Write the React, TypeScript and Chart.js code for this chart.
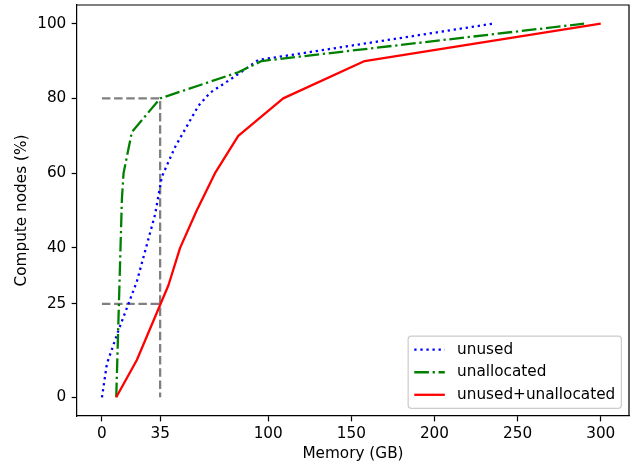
import React, { useEffect, useRef } from "react";
import { Chart, registerables } from "chart.js";

Chart.register(...registerables);

// ---- data ----
const unusedX = [0, 3, 10, 21, 32, 36, 44, 58, 65, 82, 94, 112, 235];
const unusedY = [0, 9, 18, 31, 49, 59, 67, 78, 81.5, 86.5, 90.3, 91.5, 100];

const unallocatedX = [8.6, 12, 13, 18, 35, 82, 96, 290];
const unallocatedY = [0, 53, 60, 71, 80, 87, 90, 100];

const bothX = [8.6, 21, 40, 47, 57, 68, 82, 109, 158, 300];
const bothY = [0, 10, 30, 40, 50, 60, 70, 80, 90, 100];

const ref80X = [0, 35, 35];
const ref80Y = [80, 80, 0];
const ref25X = [0, 35];
const ref25Y = [25, 25];

const xTicks = [0, 35, 100, 150, 200, 250, 300];
const yTicks = [0, 25, 40, 60, 80, 100];

const legendLabels = ["unused", "unallocated", "unused+unallocated"];

const FONT = "DejaVu Sans";
const FS = 15.28;
const LW = 2.29;

const toPts = (xs: number[], ys: number[]) => xs.map((x, i) => ({ x, y: ys[i] }));

const framePlugin = {
  id: "frameLegend",
  afterDatasetsDraw(chart: any) {
    const { ctx, chartArea } = chart;
    ctx.save();
    ctx.strokeStyle = "#000";
    ctx.lineWidth = 1.22;
    ctx.beginPath();
    ctx.moveTo(chartArea.left, chartArea.top);
    ctx.lineTo(chartArea.right, chartArea.top);
    ctx.lineTo(chartArea.right, chartArea.bottom);
    ctx.stroke();
    ctx.restore();
  },
  afterDraw(chart: any) {
    const { ctx, chartArea } = chart;
    ctx.save();
    ctx.font = `${FS}px "${FONT}"`;
    const pad = 0.4 * FS,
      hl = 2 * FS,
      htp = 0.8 * FS,
      ls = 0.5 * FS,
      axpad = 0.5 * FS;
    const rowH = 14.9;
    const tw = Math.max(...legendLabels.map((l) => ctx.measureText(l).width));
    const w = 2 * pad + hl + htp + tw;
    const h = 2 * pad + legendLabels.length * rowH + (legendLabels.length - 1) * ls;
    const right = chartArea.right - axpad;
    const bottom = chartArea.bottom - axpad;
    const left = right - w;
    const top = bottom - h;
    ctx.beginPath();
    ctx.roundRect(left, top, w, h, 3);
    ctx.fillStyle = "rgba(255,255,255,0.8)";
    ctx.fill();
    ctx.strokeStyle = "#cccccc";
    ctx.lineWidth = 1.2;
    ctx.stroke();
    legendLabels.forEach((lab, i) => {
      const ds = chart.data.datasets.find((d: any) => d.label === lab);
      const cy = top + pad + rowH / 2 + i * (rowH + ls);
      ctx.beginPath();
      ctx.setLineDash(ds.borderDash || []);
      ctx.lineWidth = ds.borderWidth;
      ctx.strokeStyle = ds.borderColor;
      ctx.lineCap = "butt";
      ctx.moveTo(left + pad, cy);
      ctx.lineTo(left + pad + hl, cy);
      ctx.stroke();
      ctx.setLineDash([]);
      ctx.fillStyle = "#000";
      ctx.textBaseline = "middle";
      ctx.textAlign = "left";
      ctx.fillText(lab, left + pad + hl + htp, cy);
    });
    ctx.restore();
  },
};

export default function App() {
  const ref = useRef<HTMLCanvasElement>(null);
  useEffect(() => {
    document.body.style.margin = "0";
    const canvas = ref.current!;
    const tickFont = { family: FONT, size: FS };
    const chart = new Chart(canvas, {
      type: "line",
      data: {
        datasets: [
          {
            label: "unused+unallocated",
            data: toPts(bothX, bothY),
            borderColor: "#ff0000",
            borderWidth: LW,
            borderDash: [],
            borderJoinStyle: "round",
            borderCapStyle: "butt",
            pointRadius: 0,
            tension: 0,
            fill: false,
          },
          {
            label: "unallocated",
            data: toPts(unallocatedX, unallocatedY),
            borderColor: "#008000",
            borderWidth: LW,
            borderDash: [14.67, 3.67, 2.29, 3.67],
            borderJoinStyle: "round",
            borderCapStyle: "butt",
            pointRadius: 0,
            tension: 0,
            fill: false,
          },
          {
            label: "unused",
            data: toPts(unusedX, unusedY),
            borderColor: "#0000ff",
            borderWidth: LW,
            borderDash: [2.29, 3.78],
            borderJoinStyle: "round",
            borderCapStyle: "butt",
            pointRadius: 0,
            tension: 0,
            fill: false,
          },
          {
            label: "_ref80",
            data: toPts(ref80X, ref80Y),
            borderColor: "#808080",
            borderWidth: LW,
            borderDash: [8.48, 3.67],
            borderCapStyle: "butt",
            pointRadius: 0,
            tension: 0,
            fill: false,
          },
          {
            label: "_ref25",
            data: toPts(ref25X, ref25Y),
            borderColor: "#808080",
            borderWidth: LW,
            borderDash: [8.48, 3.67],
            borderCapStyle: "butt",
            pointRadius: 0,
            tension: 0,
            fill: false,
          },
        ] as any,
      },
      options: {
        responsive: false,
        animation: false,
        devicePixelRatio: 1,
        layout: { padding: { top: 5, right: 7, left: 0, bottom: 0 }, autoPadding: false } as any,
        plugins: { legend: { display: false }, tooltip: { enabled: false } },
        scales: {
          x: {
            type: "linear",
            min: -15,
            max: 317,
            afterBuildTicks: (s: any) => {
              s.ticks = xTicks.map((v) => ({ value: v }));
            },
            afterFit: (s: any) => {
              s.height = 52;
              s.paddingLeft = 0;
              s.paddingRight = 0;
              s.paddingTop = 0;
              s.paddingBottom = 0;
            },
            grid: {
              display: true,
              drawOnChartArea: false,
              drawTicks: true,
              tickLength: 5.35,
              tickWidth: 1.22,
              tickColor: "#000",
            },
            border: { display: true, color: "#000", width: 1.22 },
            ticks: {
              padding: 4,
              font: tickFont,
              color: "#000",
              maxRotation: 0,
              autoSkip: false,
              callback: (v: any) => String(v),
            },
            title: {
              display: true,
              text: "Memory (GB)",
              font: tickFont,
              color: "#000",
              padding: { top: 0, bottom: 4.8 },
            },
          },
          y: {
            type: "linear",
            min: -5,
            max: 105,
            afterBuildTicks: (s: any) => {
              s.ticks = yTicks.map((v) => ({ value: v }));
            },
            afterFit: (s: any) => {
              s.width = 77;
              s.paddingLeft = 0;
              s.paddingRight = 0;
              s.paddingTop = 0;
              s.paddingBottom = 0;
            },
            grid: {
              display: true,
              drawOnChartArea: false,
              drawTicks: true,
              tickLength: 5.35,
              tickWidth: 1.22,
              tickColor: "#000",
            },
            border: { display: true, color: "#000", width: 1.22 },
            ticks: {
              padding: 5.35,
              font: tickFont,
              color: "#000",
              autoSkip: false,
              callback: (v: any) => String(v),
            },
            title: {
              display: true,
              text: "Compute nodes (%)",
              font: tickFont,
              color: "#000",
              padding: { top: 12.8, bottom: 0 },
            },
          },
        },
      } as any,
      plugins: [framePlugin],
    });
    return () => chart.destroy();
  }, []);
  return (
    <div style={{ width: 636, height: 468, background: "#fff" }}>
      <canvas ref={ref} width={636} height={468} style={{ display: "block" }} />
    </div>
  );
}
